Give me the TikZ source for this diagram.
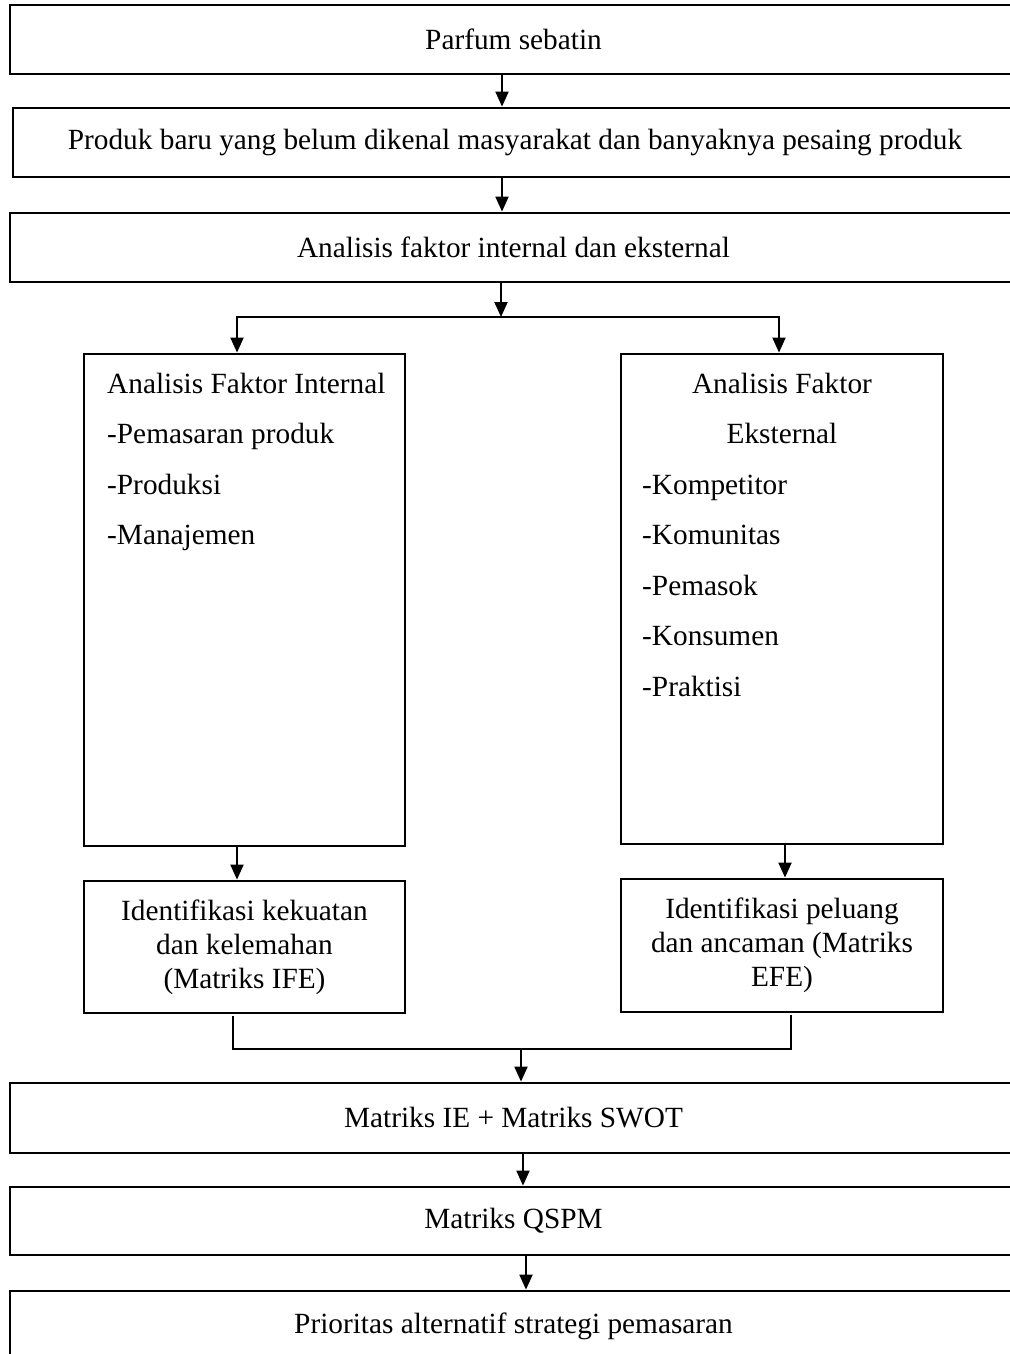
\documentclass[tikz,border=0pt]{standalone}
\usepackage{fontspec}
\setmainfont{Liberation Serif}
\usetikzlibrary{arrows.meta}
\begin{document}
\begin{tikzpicture}[x=1pt,y=-1pt,
  box/.style={draw, line width=2.8pt, rectangle, inner sep=0pt, font=\fontsize{29.3}{34}\selectfont, align=center},
  txt/.style={inner sep=0pt, font=\fontsize{29.3}{50.5}\selectfont},
  arr/.style={line width=2pt, -{Triangle[length=15pt,width=13pt]}},
  darr/.style={line width=2pt, {Triangle[length=15pt,width=13pt]}-{Triangle[length=15pt,width=13pt]}, line join=miter},
  mln/.style={line width=1.6pt}]
\useasboundingbox (0,0) rectangle (1009,1354);
% top boxes
\node[box, minimum width=1007pt, minimum height=69pt] (b1) at (513.5,39.5) {Parfum sebatin};
\node[box, minimum width=1004pt, minimum height=69pt] (b2) at (515,142.5) {Produk baru yang belum dikenal masyarakat dan banyaknya pesaing produk};
\node[box, minimum width=1007pt, minimum height=69pt] (b3) at (513.5,247.5) {Analisis faktor internal dan eksternal};
% big boxes
\node[box, minimum width=321pt, minimum height=492pt] (L) at (244.5,600) {};
\node[box, minimum width=322pt, minimum height=490pt] (R) at (782,599) {};
\node[txt, anchor=base west, align=left] (lt) at (107,544.5) {Analisis Faktor Internal\\-Pemasaran produk\\-Produksi\\-Manajemen};
\node[txt, anchor=base, align=center] (rt1) at (782,443.5) {Analisis Faktor\\Eksternal};
\node[txt, anchor=base west, align=left] (rt2) at (642,696) {-Kompetitor\\-Komunitas\\-Pemasok\\-Konsumen\\-Praktisi};
% identification boxes
\node[box, minimum width=321pt, minimum height=132pt] (ife) at (244.5,947) {Identifikasi kekuatan\\dan kelemahan\\(Matriks IFE)};
\node[box, minimum width=322pt, minimum height=133pt] (efe) at (782,945.5) {Identifikasi peluang\\dan ancaman (Matriks\\EFE)};
% bottom boxes
\node[box, minimum width=1007pt, minimum height=70pt] (ie) at (513.5,1118) {Matriks IE + Matriks SWOT};
\node[box, minimum width=1007pt, minimum height=68pt] (qs) at (513.5,1221) {Matriks QSPM};
\node[box, minimum width=1007pt, minimum height=71pt] (pr) at (513.5,1326.5) {Prioritas alternatif strategi pemasaran};
% connector coordinates
\coordinate (x1) at (502,0);
\coordinate (x2) at (502,0);
\coordinate (sp) at (501,317);
\coordinate (sl) at (237,317);
\coordinate (sr) at (779,317);
\coordinate (x3) at (237,0);
\coordinate (x4) at (785,0);
\coordinate (ml) at (233,1049);
\coordinate (mr) at (791,1049);
\coordinate (mm) at (521,1049);
\coordinate (x5) at (523,0);
\coordinate (x6) at (526,0);
% connectors
\draw[arr] (b1.south -| x1) -- (b2.north -| x1);
\draw[arr] (b2.south -| x2) -- (b3.north -| x2);
\draw[arr] (b3.south -| sp) -- (sp);
\draw[darr] (L.north -| sl) -- (sl) -- (sr) -- (R.north -| sr);
\draw[arr] (L.south -| x3) -- (ife.north -| x3);
\draw[arr] (R.south -| x4) -- (efe.north -| x4);
\draw[mln] ([yshift=-2pt]ife.south -| ml) -- (ml) -- (mr) -- ([yshift=-2pt]efe.south -| mr);
\draw[arr] (mm) -- (ie.north -| mm);
\draw[arr] (ie.south -| x5) -- (qs.north -| x5);
\draw[arr] (qs.south -| x6) -- (pr.north -| x6);
\end{tikzpicture}
\end{document}
